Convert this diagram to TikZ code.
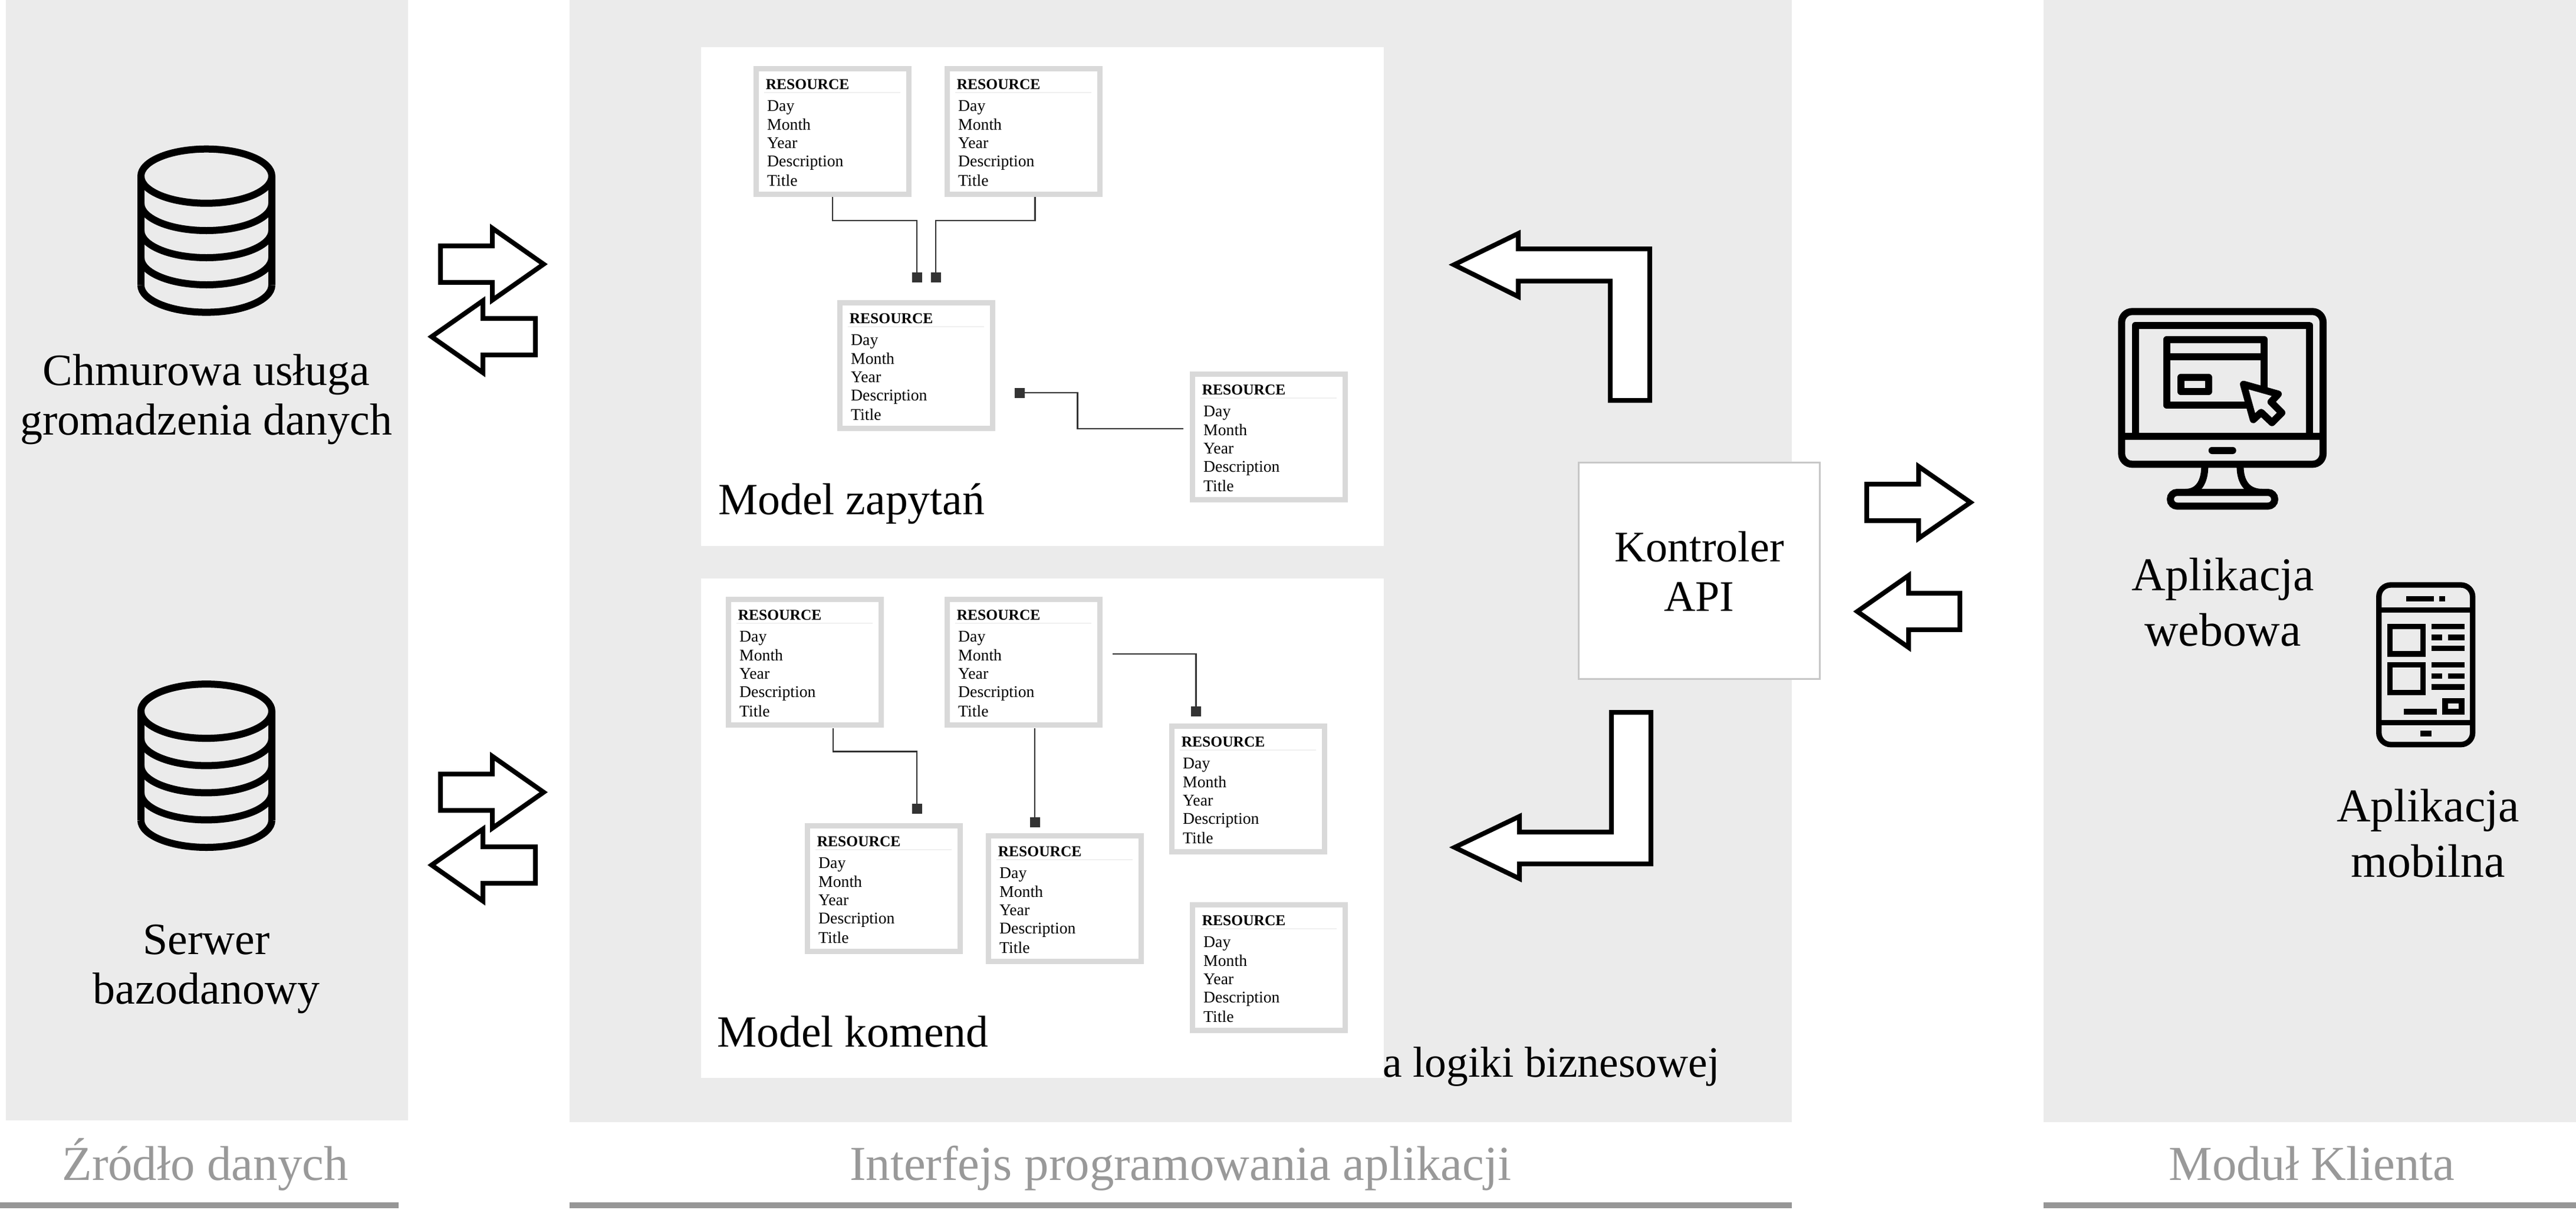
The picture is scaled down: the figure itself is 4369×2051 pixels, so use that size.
\documentclass[tikz,border=0pt]{standalone}
\usepackage{fontspec}
\setmainfont{Liberation Serif}
\usetikzlibrary{calc}
\definecolor{panel}{HTML}{EBEBEB}
\definecolor{boxline}{HTML}{D9D9D9}
\definecolor{wire}{HTML}{333333}
\definecolor{capgrey}{HTML}{999999}
\definecolor{bargrey}{HTML}{969696}
\tikzset{
  panelbox/.style={fill=panel,draw=none},
  modelbox/.style={fill=white,draw=none},
  barbox/.style={fill=bargrey,draw=none},
  resbox/.style={draw=boxline,fill=white,line width=9pt,minimum width=259pt,minimum height=213pt,inner sep=0pt},
  restitle/.style={anchor=base west,inner sep=0pt,font=\fontsize{25.5}{30}\selectfont\bfseries},
  resfield/.style={anchor=base west,inner sep=0pt,font=\fontsize{27.7}{31}\selectfont},
  wireline/.style={draw=wire,line width=2.8pt},
  endsq/.style={fill=wire,draw=none,minimum size=17pt,inner sep=0pt,outer sep=0pt},
  bigtext/.style={anchor=base,inner sep=0pt,align=center,text=black,font=\fontsize{76}{83.5}\selectfont},
  apptext/.style={anchor=base,inner sep=0pt,align=center,text=black,font=\fontsize{79.7}{94}\selectfont},
  apitext/.style={anchor=base,inner sep=0pt,align=center,text=black,font=\fontsize{74}{84}\selectfont},
  modeltext/.style={anchor=base west,inner sep=0pt,text=black,font=\fontsize{75.7}{84}\selectfont},
  captext/.style={anchor=base,inner sep=0pt,text=capgrey,font=\fontsize{82.8}{90}\selectfont},
  blockarrow/.style={draw=black,fill=white,line width=8pt,miter limit=10},
  iconline/.style={draw=black,line width=12pt},
  phoneline/.style={draw=black,line width=9.33pt}
}
\newcommand{\resource}[3]{%
  \node[resbox] (#1) at (#2+134,#3+111) {};
  \begin{scope}[shift={(#2,#3)}]
    \node[restitle] (#1t) at (20.6,39.5) {RESOURCE};
    \coordinate (#1ra) at (18,45);
    \coordinate (#1rb) at (249,45);
    \draw[draw=black!6,line width=2pt] (#1ra) -- (#1rb);
    \node[resfield] (#1f1) at (23,76.8) {Day};
    \node[resfield] (#1f2) at (23,108.6) {Month};
    \node[resfield] (#1f3) at (23,139.9) {Year};
    \node[resfield] (#1f4) at (23,170.6) {Description};
    \node[resfield] (#1f5) at (23,203) {Title};
  \end{scope}}
\newcommand{\dbicon}[1]{%
  \begin{scope}[shift={(0,#1)}]
    \draw[iconline] (239,483.6) -- (239,298.7) .. controls (239,273.3) and (288.7,252.7) .. (350,252.7) .. controls (411.3,252.7) and (461,273.3) .. (461,298.7) -- (461,483.6);
    \foreach \Y in {298.7,345,391,437,483.6}
      \draw[iconline] (239,\Y) .. controls (239,\Y+25.4) and (288.7,\Y+46) .. (350,\Y+46) .. controls (411.3,\Y+46) and (461,\Y+25.4) .. (461,\Y);
  \end{scope}}
% small block arrows: tip x, back-of-head x, tail x, centre y
\newcommand{\blockarrowpath}[4]{%
  \draw[blockarrow] (#1,#4) -- (#2,#4-61) -- (#2,#4-30.8) -- (#3,#4-30.8) -- (#3,#4+30.8) -- (#2,#4+30.8) -- (#2,#4+61) -- cycle;}
\begin{document}
\begin{tikzpicture}[x=1pt,y=-1pt]
\useasboundingbox (0,0) rectangle (4369,2051);
\fill[white] (0,0) rectangle (4369,2051);
% panels
\fill[panelbox] (10,0) rectangle (692,1900);
\fill[panelbox] (966,0) rectangle (3039,1903);
\fill[panelbox] (3466,0) rectangle (4369,1903);
% bars
\fill[barbox] (0,2039) rectangle (676,2049);
\fill[barbox] (966,2039) rectangle (3039,2049);
\fill[barbox] (3466,2039) rectangle (4369,2049);
% captions
\node[captext] (capA) at (348,2001) {Źródło danych};
\node[captext] (capB) at (2002,2001) {Interfejs programowania aplikacji};
\node[captext] (capC) at (3921,2001) {Moduł Klienta};
% business logic label, then model boxes over it
\node[anchor=base west,inner sep=0pt,text=black,font=\fontsize{73.5}{84}\selectfont] (logic) at (2345,1826) {a logiki biznesowej};
\fill[modelbox] (1189,80) rectangle (2347,926);
\fill[modelbox] (1189,981) rectangle (2347,1828);
% resources - query model
\resource{A}{1278}{112}
\resource{B}{1602}{112}
\resource{C}{1420}{509}
\resource{D}{2018}{630}
% resources - command model
\resource{E}{1231}{1012}
\resource{F}{1602}{1012}
\resource{G}{1365}{1396}
\resource{H}{1672}{1413}
\resource{I}{1983}{1227}
\resource{J}{2018}{1530}
% connector ends
\node[endsq] (s1) at (1555,470.5) {};
\node[endsq] (s2) at (1587,470.5) {};
\node[endsq] (s3) at (1555,1371.6) {};
\node[endsq] (s4) at (1755,1394.7) {};
\node[endsq] (s5) at (2028.5,1206) {};
\node[endsq] (s6) at (1729.5,666) {};
\coordinate (b1) at (1755.5,334);
\coordinate (e1) at (1413,1235);
\coordinate (f1) at (1755,1235);
\coordinate (f2) at (1887,1109);
\coordinate (d1) at (2006.5,727);
\draw[wireline] (A.south) -- ++(0,40) -| (s1);
\draw[wireline] (b1) -- ++(0,40) -| (s2);
\draw[wireline] (d1) -- ++(-179,0) |- (s6);
\draw[wireline] (e1) -- ++(0,39.6) -| (s3);
\draw[wireline] (f1) -- (s4);
\draw[wireline] (f2) -| (s5);
% model captions
\node[modeltext] (mq) at (1218,872) {Model zapytań};
\node[modeltext] (mc) at (1216,1775) {Model komend};
% controller
\node[draw=black!22,fill=white,line width=3pt,minimum width=409pt,minimum height=367pt,inner sep=0pt] (api) at (2881.5,968) {};
\node[apitext] (apilabel) at (2882,1036) {Kontroler\\API};
% bent arrows
\draw[blockarrow] (2466,449) -- (2575,396) -- (2575,422) -- (2798,422) -- (2798,679) -- (2731,679) -- (2731,476.5) -- (2575,476.5) -- (2575,503) -- cycle;
\draw[blockarrow] (2467,1437) -- (2577,1384.5) -- (2577,1411) -- (2733,1411) -- (2733,1208) -- (2800,1208) -- (2800,1465) -- (2577,1465) -- (2577,1490) -- cycle;
% small arrows
\blockarrowpath{922}{835}{747}{448}
\blockarrowpath{732}{819}{908}{571}
\blockarrowpath{922}{835}{747}{1343.5}
\blockarrowpath{732}{819}{908}{1467}
\blockarrowpath{3342}{3254}{3166}{852}
\blockarrowpath{3150}{3237}{3324}{1037}
% database icons
\dbicon{0}
\dbicon{907.4}
\node[bigtext] (dbA) at (350,737) {Chmurowa usługa\\gromadzenia danych};
\node[bigtext] (dbB) at (350,1702) {Serwer\\bazodanowy};
% monitor icon
\begin{scope}[shift={(3580,510)},x=0.33333pt,y=-0.33333pt]
  \draw[iconline,rounded corners=18pt] (55,55) rectangle (1080,832);
  \draw[iconline,line join=round] (125,691) -- (125,125) -- (1010,125) -- (1010,691);
  \draw[iconline] (55,691) -- (1080,691);
  \fill[black,rounded corners=6pt] (497,744) rectangle (638,780);
  \draw[iconline] (478,840) .. controls (478,930) and (440,975) .. (380,975);
  \draw[iconline] (658,840) .. controls (658,930) and (700,975) .. (770,975);
  \draw[iconline,rounded corners=11.6pt] (303,975) rectangle (834,1045);
  \draw[iconline,line join=round] (780,440) -- (780,197) -- (285,197) -- (285,532) -- (695,532);
  \draw[iconline] (285,285) -- (780,285);
  \draw[iconline,line join=round] (356,390) rectangle (497,462);
  \draw[iconline,line join=round] (675,425) -- (852,475) -- (815,515) -- (870,570) -- (820,620) -- (765,568) -- (725,605) -- cycle;
\end{scope}
\node[apptext] (web) at (3770,1095) {Aplikacja\\webowa};
% phone icon
\begin{scope}[shift={(4020,980)},x=0.33333pt,y=-0.33333pt]
  \draw[phoneline,rounded corners=20pt] (44,36) rectangle (521,848);
  \draw[phoneline] (44,163) -- (521,163);
  \draw[phoneline] (44,737) -- (521,737);
  \fill[black] (184,93) rectangle (325,121);
  \fill[black] (352,93) rectangle (381,121);
  \fill[black] (254,778) rectangle (311,806);
  \draw[phoneline] (101,247) rectangle (269,387);
  \draw[phoneline] (101,443) rectangle (269,583);
  \foreach \Y in {233,429} {
    \fill[black] (311,\Y) rectangle (479,\Y+28);
    \fill[black] (311,\Y+56) rectangle (367,\Y+84);
    \fill[black] (395,\Y+56) rectangle (479,\Y+84);
    \fill[black] (311,\Y+112) rectangle (479,\Y+140);
  }
  \fill[black] (171,667) rectangle (339,695);
  \draw[phoneline] (381,625) rectangle (465,681);
\end{scope}
\node[apptext] (mob) at (4118,1487) {Aplikacja\\mobilna};
\end{tikzpicture}
\end{document}
